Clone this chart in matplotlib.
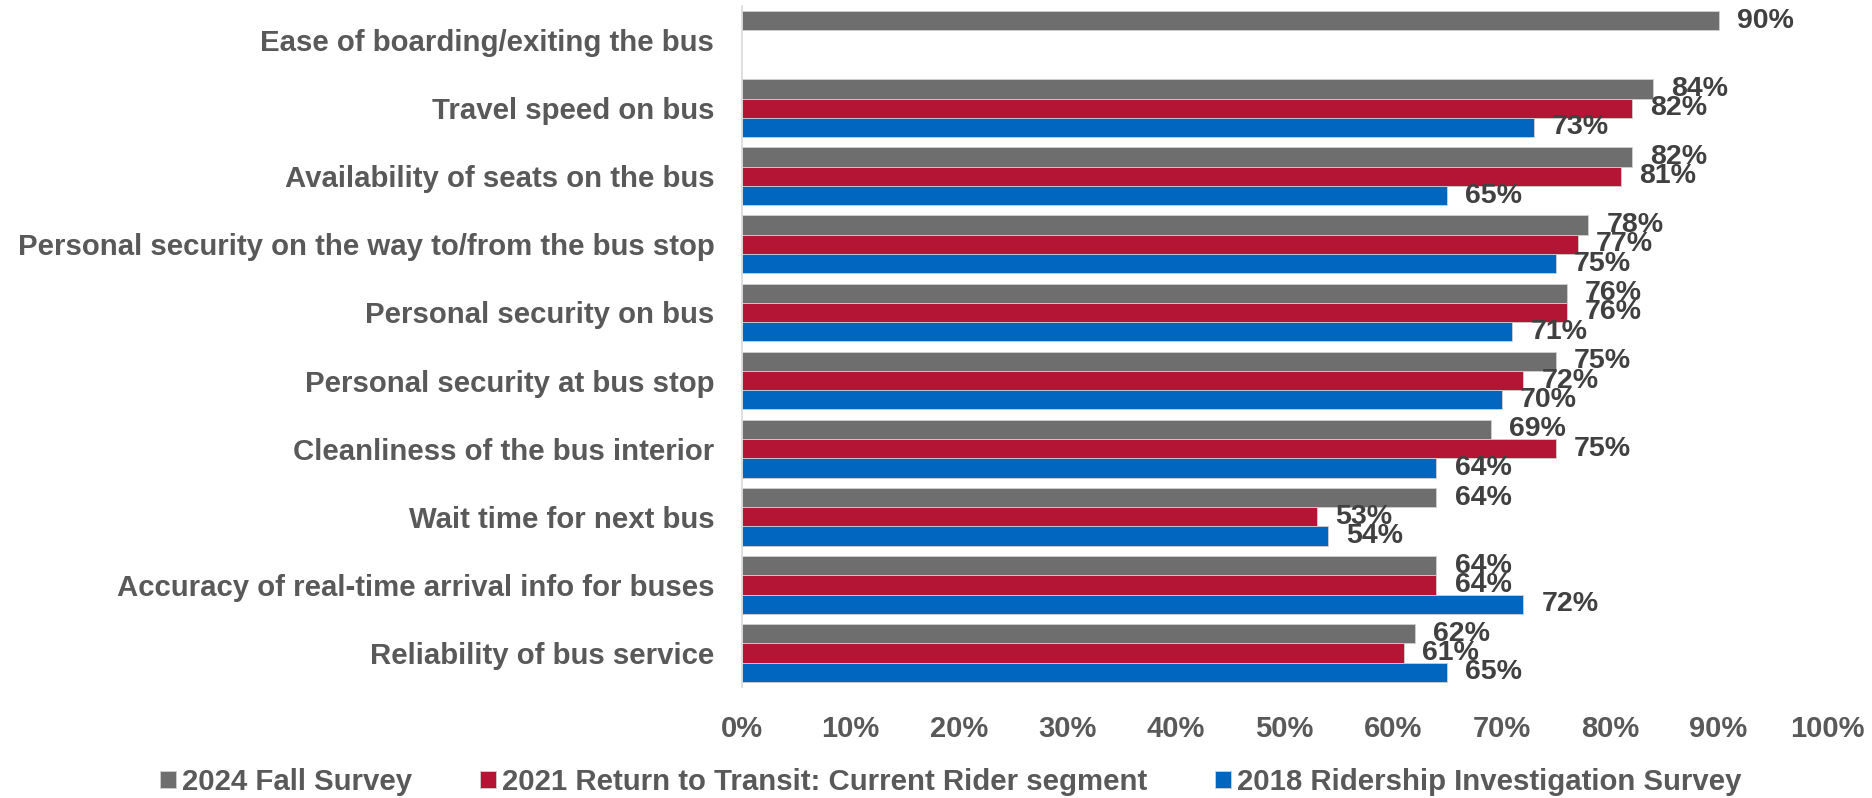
import numpy as np
import matplotlib
matplotlib.use("Agg")
import matplotlib.pyplot as plt
from matplotlib.ticker import FuncFormatter

plt.rcParams['font.family'] = ['Liberation Sans', 'DejaVu Sans']
plt.rcParams['font.weight'] = 'bold'

# survey items, top to bottom
categories = [
    "Ease of boarding/exiting the bus",
    "Travel speed on bus",
    "Availability of seats on the bus",
    "Personal security on the way to/from the bus stop",
    "Personal security on bus",
    "Personal security at bus stop",
    "Cleanliness of the bus interior",
    "Wait time for next bus",
    "Accuracy of real-time arrival info for buses",
    "Reliability of bus service",
]

# percent satisfied per survey (None = item not asked)
fall_2024 = [90, 84, 82, 78, 76, 75, 69, 64, 64, 62]
rtt_2021 = [None, 82, 81, 77, 76, 72, 75, 53, 64, 61]
ridership_2018 = [None, 73, 65, 75, 71, 70, 64, 54, 72, 65]

series = [
    ("2024 Fall Survey", fall_2024, "#6e6e6e"),
    ("2021 Return to Transit: Current Rider segment", rtt_2021, "#b51535"),
    ("2018 Ridership Investigation Survey", ridership_2018, "#0066bf"),
]

LABEL_GREY = "#595959"
VALUE_GREY = "#404040"

fig = plt.figure(figsize=(18.72, 7.98), dpi=100)
ax = fig.add_axes([0.3964, 0.139, 0.5796, 0.8535])

y = np.arange(len(categories))
bar_h = 0.283

for i, (name, vals, color) in enumerate(series):
    arr = np.array([np.nan if v is None else v for v in vals], dtype=float)
    bars = ax.barh(y + (i - 1) * bar_h, arr, height=bar_h, color=color,
                   edgecolor="#d0d0d0", linewidth=0.6, label=name)
    labels = ["" if v is None else f"{v}%" for v in vals]
    ax.bar_label(bars, labels=labels, padding=13, fontsize=20.5,
                 fontweight="bold", color=VALUE_GREY)

ax.set_ylim(len(categories) - 0.5, -0.5)
ax.set_xlim(0, 100)
ax.set_xticks(np.arange(0, 101, 10))
ax.xaxis.set_major_formatter(FuncFormatter(lambda v, _: f"{v:.0f}%"))
ax.set_yticks(y)
ax.set_yticklabels(categories)

ax.tick_params(axis="y", length=0, pad=20, labelsize=21.2, labelcolor=LABEL_GREY)
ax.tick_params(axis="x", length=0, pad=20, labelsize=21, labelcolor=LABEL_GREY)
for lbl in ax.get_xticklabels() + ax.get_yticklabels():
    lbl.set_fontweight("bold")

for side in ["top", "right", "bottom"]:
    ax.spines[side].set_visible(False)
ax.spines["left"].set_color("#d9d9d9")
ax.spines["left"].set_linewidth(1.2)

handles, names = ax.get_legend_handles_labels()
leg = fig.legend(handles, names, loc="center", bbox_to_anchor=(0.508, 0.02),
                 ncol=3, frameon=False, handlelength=0.55,
                 handleheight=0.55, handletextpad=0.2, columnspacing=2.3,
                 prop={"weight": "bold", "size": 21.2})
for t in leg.get_texts():
    t.set_color(LABEL_GREY)

fig.savefig("out.png", dpi=100)
